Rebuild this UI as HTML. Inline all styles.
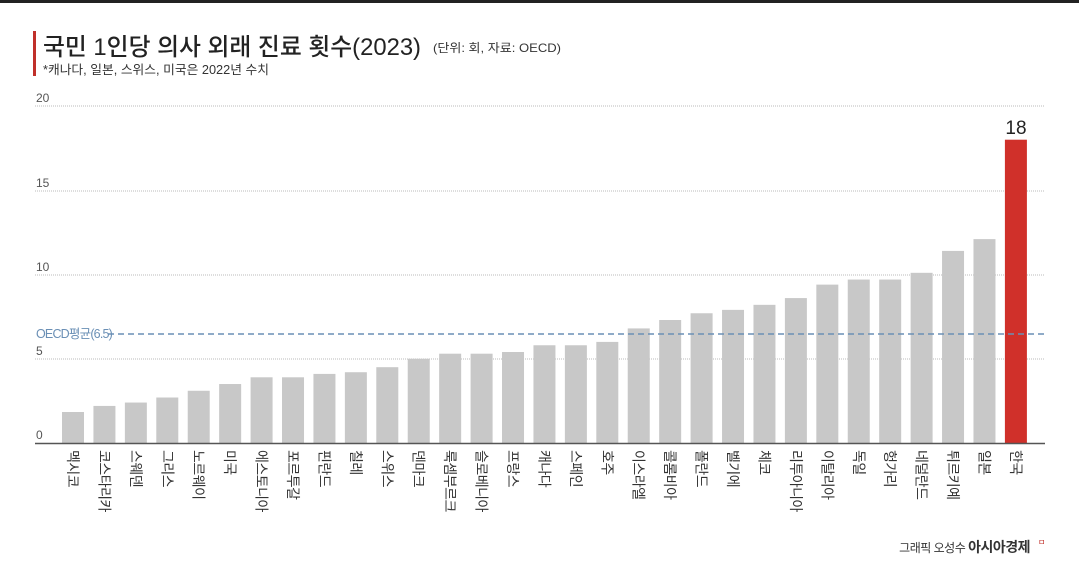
<!DOCTYPE html>
<html><head><meta charset="utf-8">
<style>
body{margin:0;background:#fff;width:1079px;height:574px;overflow:hidden;font-family:"Liberation Sans","Noto Sans CJK KR",sans-serif;}
</style></head><body>
<div style="position:absolute;left:0;top:0;width:1079px;height:3px;background:#222"></div>
<svg width="1079" height="574" style="position:absolute;left:0;top:0" font-family="Liberation Sans, Noto Sans CJK KR, sans-serif">
<rect x="33" y="31" width="3" height="45" fill="#c0302a"/>
<text x="43" y="55" font-size="24" fill="#222" font-weight="500" textLength="378" lengthAdjust="spacingAndGlyphs">국민 1인당 의사 외래 진료 횟수(2023)</text>
<text x="433" y="52" font-size="12" fill="#333" textLength="128" lengthAdjust="spacingAndGlyphs">(단위: 회, 자료: OECD)</text>
<text x="43" y="74" font-size="12.5" fill="#333" textLength="226" lengthAdjust="spacingAndGlyphs">*캐나다, 일본, 스위스, 미국은 2022년 수치</text>
<g stroke="#bbb" stroke-width="1" stroke-dasharray="1,1">
<line x1="35" y1="106" x2="1045" y2="106"/><line x1="35" y1="191" x2="1045" y2="191"/>
<line x1="35" y1="275" x2="1045" y2="275"/><line x1="35" y1="359" x2="1045" y2="359"/>
</g>
<g font-size="12" fill="#555">
<text x="36" y="102">20</text><text x="36" y="187">15</text><text x="36" y="271">10</text><text x="36" y="355">5</text><text x="36" y="439">0</text>
</g>
<g id="bars"></g>
<line x1="35" y1="443.5" x2="1045" y2="443.5" stroke="#555" stroke-width="1.5"/>
<line x1="108" y1="334" x2="1045" y2="334" stroke="#6a8fb5" stroke-width="1.5" stroke-dasharray="6,4"/>
<text x="36" y="338" font-size="12.5" fill="#6a8fb5" letter-spacing="-0.8">OECD평균(6.5)</text>
<text x="1016" y="134" font-size="19" fill="#222" text-anchor="middle" font-weight="500">18</text>
<text x="1030" y="552" font-size="12" fill="#333" text-anchor="end" letter-spacing="-0.5">그래픽 오성수 <tspan font-weight="bold" font-size="14">아시아경제</tspan></text>
<text x="1038" y="545" font-size="8" fill="#c0302a">ㅁ</text>
</svg>
<script>
var n=["멕시코","코스타리카","스웨덴","그리스","노르웨이","미국","에스토니아","포르투갈","핀란드","칠레","스위스","덴마크","룩셈부르크","슬로베니아","프랑스","캐나다","스페인","호주","이스라엘","콜롬비아","폴란드","벨기에","체코","리투아니아","이탈리아","독일","헝가리","네덜란드","튀르키예","일본","한국"];
var v=[1.84,2.2,2.4,2.7,3.1,3.5,3.9,3.9,4.1,4.2,4.5,5.0,5.3,5.3,5.4,5.8,5.8,6.0,6.8,7.3,7.7,7.9,8.2,8.6,9.4,9.7,9.7,10.1,11.4,12.1,18];
var g=document.getElementById('bars'),s='';
for(var i=0;i<31;i++){var cx=73+i*31.43,h=v[i]*16.85;
s+='<rect x="'+(cx-11)+'" y="'+(443-h)+'" width="22" height="'+h+'" fill="'+(i==30?'#d0302a':'#c8c8c8')+'"/>';
s+='<text transform="translate('+(cx-5)+',450) rotate(90)" font-size="14" fill="#333" letter-spacing="-0.5">'+n[i]+'</text>';}
g.innerHTML=s;
</script>
</body></html>
